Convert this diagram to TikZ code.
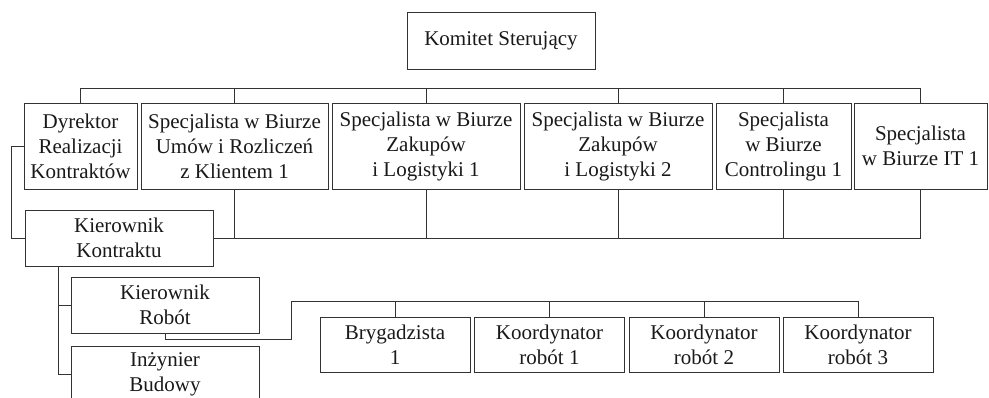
\documentclass[tikz,border=0pt]{standalone}
\usepackage{fontspec}
\setmainfont{Liberation Serif}
\begin{document}
\begin{tikzpicture}[x=1pt,y=-1pt,
  box/.style={draw=black!80, line width=0.8pt, inner sep=1pt, align=center,
    font=\fontsize{21}{25}\selectfont, text=black!90},
  toprow/.style={box, minimum height=86pt},
  botrow/.style={box, minimum width=150pt, minimum height=55pt},
  conn/.style={draw=black!80, line width=0.8pt}]
\useasboundingbox (0,0) rectangle (989,398);
\clip (0,0) rectangle (989,398);
% nodes
\node[box, minimum width=188pt, minimum height=57pt] (kom) at (501,40.5) {Komitet Sterujący};
\node[toprow, minimum width=113pt] (b1) at (80.5,146) {Dyrektor\\Realizacji\\Kontraktów};
\node[toprow, minimum width=187pt] (b2) at (234.5,146) {Specjalista w Biurze\\Umów i Rozliczeń\\z Klientem 1};
\node[toprow, minimum width=188pt] (b3) at (426,146) {Specjalista w Biurze\\Zakupów\\i Logistyki 1};
\node[toprow, minimum width=188pt] (b4) at (618,146) {Specjalista w Biurze\\Zakupów\\i Logistyki 2};
\node[toprow, minimum width=135pt] (b5) at (783.5,146) {Specjalista\\w Biurze\\Controlingu 1};
\node[toprow, minimum width=133pt] (b6) at (920.5,146) {Specjalista\\w Biurze IT 1};
\node[box, minimum width=188pt, minimum height=56pt] (kk) at (119,238) {Kierownik\\Kontraktu};
\node[box, minimum width=188pt, minimum height=56pt] (kr) at (165,305) {Kierownik\\Robót};
\node[box, minimum width=188pt, minimum height=56pt] (ib) at (165,374) {Inżynier\\Budowy};
\node[botrow] (w1) at (395,344.5) {Brygadzista\\1};
\node[botrow] (w2) at (549.5,344.5) {Koordynator\\robót 1};
\node[botrow] (w3) at (704,344.5) {Koordynator\\robót 2};
\node[botrow] (w4) at (858,344.5) {Koordynator\\robót 3};
% helper coordinates
\coordinate (bus1) at (0,88);
\coordinate (kkd) at (58,266);
\coordinate (bus3) at (291,301);
% top bus
\draw[conn] (b1.north) -- (b1.north |- bus1) -- (b6.north |- bus1) -- (b6.north);
\foreach \n in {b2,b3,b4,b5} \draw[conn] (\n.north) -- (\n.north |- bus1);
% bottom bus
\draw[conn] (kk.east) -| (b6.south);
\foreach \n in {b2,b3,b4,b5} \draw[conn] (\n.south) -- (\n.south |- kk.east);
% director to contract manager
\draw[conn] (b1.west) -- ++(-12,0) |- (kk.west);
% contract manager to children
\draw[conn] (kkd) |- (ib.west);
\draw[conn] (kr.west) -- (kr.west -| kkd);
% works manager to workers
\draw[conn] (kr.south) -- ++(0,6) -| (bus3) -| (w4.north);
\foreach \n in {w1,w2,w3} \draw[conn] (\n.north) -- (\n.north |- bus3);
\end{tikzpicture}
\end{document}
